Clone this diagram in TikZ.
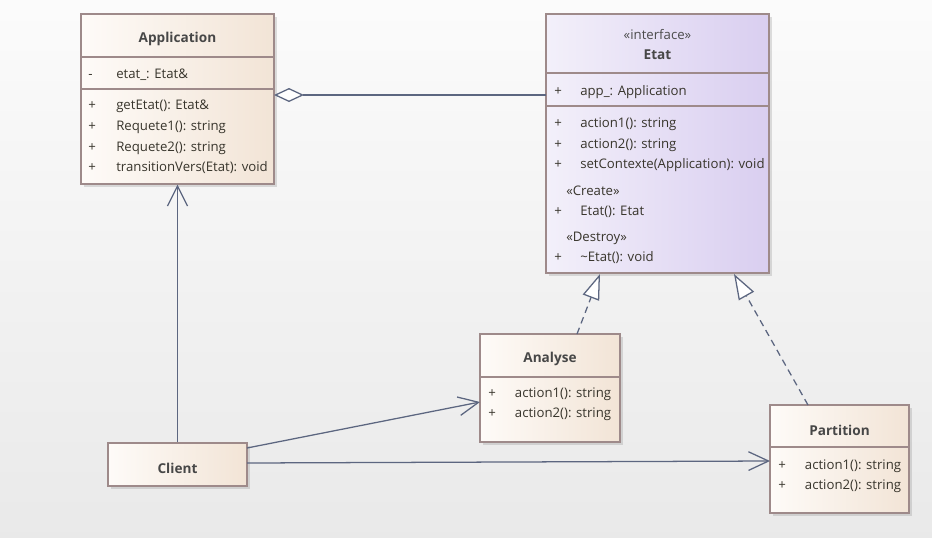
\documentclass[tikz,border=0pt]{standalone}
\usepackage{fontspec}
\setmainfont{Open Sans}
\usepackage{tikz}
\usepackage{xcolor}
\usetikzlibrary{arrows.meta,fit,shadows}
\definecolor{boxline}{HTML}{9E8A8A}
\definecolor{linkline}{HTML}{5C6680}
\definecolor{membertext}{HTML}{38352C}
\definecolor{classleft}{HTML}{FEFBF8}
\definecolor{classright}{HTML}{F2E4D6}
\definecolor{ifaceleft}{HTML}{F3F0FA}
\definecolor{ifaceright}{HTML}{D9CEF0}
\newcommand{\vis}[2][21pt]{\makebox[#1][l]{#2}}
\tikzset{
    class-box/.style = {draw=boxline, line width=0.9pt, rectangle, inner sep=0pt, left color=classleft, right color=classright, drop shadow={shadow xshift=2pt, shadow yshift=-2pt, opacity=0.25}},
    iface-box/.style = {class-box, left color=ifaceleft, right color=ifaceright},
    class-title/.style = {text=black!72, font=\fontsize{10.2}{12}\selectfont\bfseries},
    member/.style = {anchor=west, inner sep=0pt, text=membertext, font=\fontsize{9.9}{12}\selectfont},
    divider/.style = {draw=boxline, line width=0.9pt},
    link/.style = {draw=linkline, line width=0.95pt},
}

\begin{document}
\begin{tikzpicture}[x=0.75pt, y=-0.75pt]
\useasboundingbox (0,0) rectangle (932,537);
\shade[top color=gray!3, bottom color=gray!17] (0,0) rectangle (932,537);

% classes
\node [class-box, fit={(81,14) (274,184)}] (app) {};
\node [iface-box, fit={(546,14) (769,273)}] (etat) {};
\node [class-box, fit={(480,334) (620,442)}] (ana) {};
\node [class-box, fit={(770,405) (909,513)}] (part) {};
\node [class-box, fit={(108,443) (247,486)}] (client) {};

\draw [divider] (app.west |- 0,57) -- (app.east |- 0,57);
\draw [divider] (app.west |- 0,89) -- (app.east |- 0,89);
\draw [divider] (etat.west |- 0,73) -- (etat.east |- 0,73);
\draw [divider] (etat.west |- 0,106) -- (etat.east |- 0,106);
\draw [divider] (ana.west |- 0,377) -- (ana.east |- 0,377);
\draw [divider] (part.west |- 0,447) -- (part.east |- 0,447);

% Application
\node [class-title] (app-title) at (177.5,39) {Application};
\node [member] (app-a1) at (88,75) {\vis{{-}}etat\_: Etat\&};
\node [member] (app-o1) at (88,106) {\vis{+}getEtat(): Etat\&};
\node [member] (app-o2) at (88,127) {\vis{+}Requete1(): string};
\node [member] (app-o3) at (88,148) {\vis{+}Requete2(): string};
\node [member] (app-o4) at (88,168) {\vis{+}transitionVers(Etat): void};

% Etat
\node [member, anchor=center, text=black!70] (etat-stereo) at (657.5,35) {«interface»};
\node [class-title] (etat-title) at (657.5,55) {Etat};
\node [member] (etat-a1) at (554,92) {\vis[19.5pt]{+}app\_: Application};
\node [member] (etat-o1) at (554,124) {\vis[19.5pt]{+}action1(): string};
\node [member] (etat-o2) at (554,145) {\vis[19.5pt]{+}action2(): string};
\node [member] (etat-o3) at (554,165) {\vis[19.5pt]{+}setContexte(Application): void};
\node [member] (etat-create) at (566,191) {«Create»};
\node [member] (etat-o4) at (554,212) {\vis[19.5pt]{+}Etat(): Etat};
\node [member] (etat-destroy) at (566,238) {«Destroy»};
\node [member] (etat-o5) at (554,258) {\vis[19.5pt]{+}\textasciitilde Etat(): void};

% Analyse, Partition, Client
\node [class-title] (ana-title) at (550,359) {Analyse};
\node [member] (ana-o1) at (488,394) {\vis[20pt]{+}action1(): string};
\node [member] (ana-o2) at (488,414) {\vis[20pt]{+}action2(): string};
\node [class-title] (part-title) at (839.5,430) {Partition};
\node [member] (part-o1) at (778,466) {\vis[20pt]{+}action1(): string};
\node [member] (part-o2) at (778,486) {\vis[20pt]{+}action2(): string};
\node [class-title] (client-title) at (177.5,468) {Client};

% connectors
\coordinate (app-agg) at (274,95);
\coordinate (etat-agg) at (546,95);
\coordinate (etat-r1) at (600,274);
\coordinate (etat-r2) at (734,274);
\coordinate (ana-r) at (577,334);
\coordinate (part-r) at (808,405);
\coordinate (client-a) at (247,448);
\coordinate (ana-in) at (480,402);
\coordinate (client-p) at (247,463);
\coordinate (part-in) at (770,461);

\draw [link, -{Diamond[open, fill=white, length=22.5pt, width=10.5pt]}] (etat-agg) -- (app-agg);
\draw [link, -{Straight Barb[length=15pt, width=15pt]}] (client.north) -- (app.south);
\draw [link, -{Straight Barb[length=15pt, width=14pt]}] (client-a) -- (ana-in);
\draw [link, -{Straight Barb[length=15pt, width=14pt]}] (client-p) -- (part-in);
\draw [link, dash pattern=on 5pt off 3.5pt, -{Triangle[open, fill=white, length=19pt, width=13pt]}] (ana-r) -- (etat-r1);
\draw [link, dash pattern=on 5pt off 3.5pt, -{Triangle[open, fill=white, length=19pt, width=13pt]}] (part-r) -- (etat-r2);
\end{tikzpicture}
\end{document}
